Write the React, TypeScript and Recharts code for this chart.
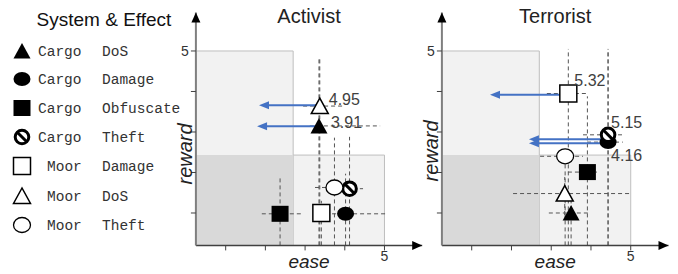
import React from "react"
import { ScatterChart, Scatter, XAxis, YAxis, ReferenceArea, ReferenceLine, ReferenceDot, Label } from "recharts"

// legend rows: system, effect, marker
const systems = ["Cargo", "Cargo", "Cargo", "Cargo", "Moor", "Moor", "Moor"]
const effects = ["DoS", "Damage", "Obfuscate", "Theft", "Damage", "DoS", "Theft"]
const markers = ["triFilled", "ellipseFilled", "squareFilled", "noSign", "squareOpen", "triOpen", "ellipseOpen"]

// Activist: centre values and dashed ranges, same order as the legend
const activistEase = [3.35, 4.02, 2.37, 4.12, 3.41, 3.37, 3.74]
const activistReward = [3.15, 0.98, 0.98, 1.6, 1.0, 3.64, 1.63]
const activistEaseLow = [3.12, 3.68, 1.91, 3.85, 3.2, 2.95, 3.25]
const activistEaseHigh = [4.89, 5.06, 2.92, 4.46, 3.62, 4.0, 4.0]
const activistRewardLow = [0.2, 0.2, 0.2, 0.2, 0.2, 0.2, 0.2]
const activistRewardHigh = [4.83, 1.97, 1.87, 2.88, 1.3, 4.83, 2.86]
const activistArrows = [
  { y: 3.66, from: 3.37, to: 1.84 },
  { y: 3.14, from: 3.35, to: 1.79 },
]
const activistLabels = [
  { idx: 5, text: "4.95" },
  { idx: 0, text: "3.91" },
]

// Terrorist
const terroristEase = [3.5, 4.43, 3.91, 4.43, 3.43, 3.34, 3.35]
const terroristReward = [1.0, 2.75, 2.01, 2.93, 3.95, 1.48, 2.4]
const terroristEaseLow = [2.94, 3.9, 3.42, 3.8, 2.89, 2.04, 2.72]
const terroristEaseHigh = [3.92, 4.8, 4.15, 4.78, 3.92, 5.03, 3.8]
const terroristRewardLow = [0.2, 0.2, 0.2, 0.2, 0.2, 0.95, 0.2]
const terroristRewardHigh = [1.3, 5.05, 3.88, 5.05, 5.05, 1.89, 2.5]
const terroristArrows = [
  { y: 3.92, from: 3.43, to: 1.46 },
  { y: 2.82, from: 4.43, to: 2.44 },
  { y: 2.72, from: 4.43, to: 2.44 },
]
const terroristLabels = [
  { idx: 4, text: "5.32" },
  { idx: 3, text: "5.15" },
  { idx: 1, text: "4.16" },
]

const easeTicks = [1, 2, 3, 4, 5]
const rewardTicks = [1, 2, 3, 4, 5]
const zoneEase = 2.7
const zoneReward = 2.43
const zoneMax = 5

// text offsets for the value labels
const labelOffset = {
  "4.95": [9, -1],
  "3.91": [12, 2],
  "5.32": [6, -8],
  "5.15": [3, -7],
  "4.16": [3, 19],
}

const SANS = "'Liberation Sans', Arial, sans-serif"
const MONO = "'Liberation Mono', 'Courier New', monospace"
const BLUE = "#4472c4"

const Marker = ({ kind, cx, cy }) => {
  switch (kind) {
    case "triFilled":
      return <polygon points={`${cx},${cy - 8} ${cx - 8.5},${cy + 7.5} ${cx + 8.5},${cy + 7.5}`} fill="#000" />
    case "triOpen":
      return <polygon points={`${cx},${cy - 8} ${cx - 8.5},${cy + 7.5} ${cx + 8.5},${cy + 7.5}`} fill="#fff" stroke="#000" strokeWidth={1.5} />
    case "ellipseFilled":
      return <ellipse cx={cx} cy={cy} rx={8.5} ry={7} fill="#000" />
    case "ellipseOpen":
      return <ellipse cx={cx} cy={cy} rx={8.5} ry={7.5} fill="#fff" stroke="#000" strokeWidth={1.3} />
    case "squareFilled":
      return <rect x={cx - 8.5} y={cy - 8} width={17} height={16} fill="#000" />
    case "squareOpen":
      return <rect x={cx - 8.5} y={cy - 8.5} width={17} height={17} fill="#fff" stroke="#000" strokeWidth={1.5} />
    case "noSign":
      return (
        <g>
          <circle cx={cx} cy={cy} r={6.8} fill="#fff" stroke="#000" strokeWidth={3} />
          <line x1={cx - 4.8} y1={cy - 4.8} x2={cx + 4.8} y2={cy + 4.8} stroke="#000" strokeWidth={3} />
        </g>
      )
    default:
      return null
  }
}

const Panel = ({ title, ease, reward, eLow, eHigh, rLow, rHigh, arrows, labels, left, width, margin, rewardShift }) => {
  return (
    <div style={{ position: "absolute", left, top: 0 }}>
      <ScatterChart width={width} height={274} margin={margin}>
        <XAxis
          type="number"
          dataKey="x"
          domain={[0.25, 5.95]}
          ticks={easeTicks}
          allowDataOverflow
          height={28.6}
          tickSize={5}
          tickMargin={1}
          tickFormatter={(v) => (v === 5 ? "5" : "")}
          tick={{ fill: "#333", fontSize: 14, fontFamily: SANS }}
          axisLine={{ stroke: "#404040", strokeWidth: 1.5 }}
          tickLine={{ stroke: "#404040" }}
        >
          <Label
            content={({ viewBox }) => (
              <text x={viewBox.x + viewBox.width / 2} y={viewBox.y + 23} textAnchor="middle" fontSize={19} fontStyle="italic" fontFamily={SANS} fill="#222">
                ease
              </text>
            )}
          />
        </XAxis>
        <YAxis
          type="number"
          dataKey="y"
          domain={[0.2, 5.95]}
          ticks={rewardTicks}
          allowDataOverflow
          width={40}
          tickSize={5}
          tickMargin={2}
          tickFormatter={(v) => (v === 5 ? "5" : "")}
          tick={{ fill: "#333", fontSize: 14, fontFamily: SANS }}
          axisLine={{ stroke: "#7f7f7f", strokeWidth: 2 }}
          tickLine={{ stroke: "#404040" }}
        >
          <Label
            content={({ viewBox }) => {
              const x = viewBox.x + viewBox.width - 10.5
              const y = viewBox.y + viewBox.height / 2 + rewardShift
              return (
                <text x={x} y={y} transform={`rotate(-90 ${x} ${y})`} textAnchor="middle" dominantBaseline="central" fontSize={20} fontStyle="italic" fontFamily={SANS} fill="#222">
                  reward
                </text>
              )
            }}
          />
        </YAxis>

        <ReferenceArea x1={0.25} x2={zoneEase} y1={0.2} y2={zoneMax} fill="#f2f2f2" fillOpacity={1} stroke="#bfbfbf" strokeWidth={1} />
        <ReferenceArea x1={zoneEase} x2={zoneMax} y1={0.2} y2={zoneReward} fill="#f2f2f2" fillOpacity={1} stroke="#bfbfbf" strokeWidth={1} />
        <ReferenceArea x1={0.25} x2={zoneEase} y1={0.2} y2={zoneReward} fill="#d9d9d9" fillOpacity={1} stroke="none" />

        {ease.map((x, i) => (
          <ReferenceLine key={`h${i}`} segment={[{ x: eLow[i], y: reward[i] }, { x: eHigh[i], y: reward[i] }]} stroke="#555" strokeDasharray="4 3" strokeWidth={1} ifOverflow="visible" />
        ))}
        {ease.map((x, i) => (
          <ReferenceLine key={`v${i}`} segment={[{ x, y: rLow[i] }, { x, y: rHigh[i] }]} stroke="#555" strokeDasharray="4 3" strokeWidth={1} ifOverflow="visible" />
        ))}

        {arrows.map((a, i) => (
          <ReferenceLine key={`a${i}`} segment={[{ x: a.from, y: a.y }, { x: a.to + 0.15, y: a.y }]} stroke={BLUE} strokeWidth={2} ifOverflow="visible" />
        ))}
        {arrows.map((a, i) => (
          <ReferenceDot
            key={`ah${i}`}
            x={a.to}
            y={a.y}
            r={0}
            ifOverflow="visible"
            shape={(p) => <polygon points={`${p.cx},${p.cy} ${p.cx + 10},${p.cy - 4} ${p.cx + 10},${p.cy + 4}`} fill={BLUE} />}
          />
        ))}

        {ease.map((x, i) => (
          <Scatter
            key={`s${i}`}
            data={[{ x, y: reward[i] }]}
            isAnimationActive={false}
            shape={(p) => <Marker kind={markers[i]} cx={p.cx} cy={p.cy} />}
          />
        ))}

        {labels.map((l) => (
          <ReferenceDot
            key={l.text}
            x={ease[l.idx]}
            y={reward[l.idx]}
            r={0}
            ifOverflow="visible"
            shape={(p) => (
              <text x={p.cx + labelOffset[l.text][0]} y={p.cy + labelOffset[l.text][1]} fontSize={16} fontFamily={SANS} fill="#404040">
                {l.text}
              </text>
            )}
          />
        ))}

        <ReferenceDot x={5.95} y={0.2} r={0} ifOverflow="visible" shape={(p) => <polygon points={`${p.cx},${p.cy} ${p.cx - 10},${p.cy - 4.5} ${p.cx - 10},${p.cy + 4.5}`} fill="#000" />} />
        <ReferenceDot x={0.25} y={5.95} r={0} ifOverflow="visible" shape={(p) => <polygon points={`${p.cx},${p.cy} ${p.cx - 4.5},${p.cy + 10} ${p.cx + 4.5},${p.cy + 10}`} fill="#000" />} />
      </ScatterChart>
      <div style={{ position: "absolute", left: margin.left + 40, width: width - margin.left - 40 - margin.right, top: 5, textAlign: "center", fontFamily: SANS, fontSize: 20, color: "#222" }}>
        {title}
      </div>
    </div>
  )
}

const Legend = () => {
  const rowY = [51, 79, 108, 137, 166, 196, 225]
  return (
    <svg width={180} height={274} style={{ position: "absolute", left: 0, top: 0 }}>
      <text x={104} y={26} textAnchor="middle" fontFamily={SANS} fontSize={19} fill="#111">
        System &amp; Effect
      </text>
      {systems.map((s, i) => (
        <g key={i}>
          <Marker kind={markers[i]} cx={22} cy={rowY[i]} />
          <text x={s === "Moor" ? 47 : 38} y={rowY[i] + 4.5} fontFamily={MONO} fontSize={14.5} fill="#333">
            {s}
          </text>
          <text x={102} y={rowY[i] + 4.5} fontFamily={MONO} fontSize={14.5} fill="#333">
            {effects[i]}
          </text>
        </g>
      ))}
    </svg>
  )
}

export default function App() {
  return (
    <div style={{ position: "absolute", left: 0, top: 0, width: 678, height: 274, background: "#fff", overflow: "hidden" }}>
      <Legend />
      <Panel
        title="Activist"
        ease={activistEase}
        reward={activistReward}
        eLow={activistEaseLow}
        eHigh={activistEaseHigh}
        rLow={activistRewardLow}
        rHigh={activistRewardHigh}
        arrows={activistArrows}
        labels={activistLabels}
        left={150}
        width={290}
        margin={{ top: 12.5, right: 17.8, left: 5.9, bottom: 0 }}
        rewardShift={25}
      />
      <Panel
        title="Terrorist"
        ease={terroristEase}
        reward={terroristReward}
        eLow={terroristEaseLow}
        eHigh={terroristEaseHigh}
        rLow={terroristRewardLow}
        rHigh={terroristRewardHigh}
        arrows={terroristArrows}
        labels={terroristLabels}
        left={400}
        width={278}
        margin={{ top: 12.5, right: 9.5, left: 1.9, bottom: 0 }}
        rewardShift={22}
      />
    </div>
  )
}
